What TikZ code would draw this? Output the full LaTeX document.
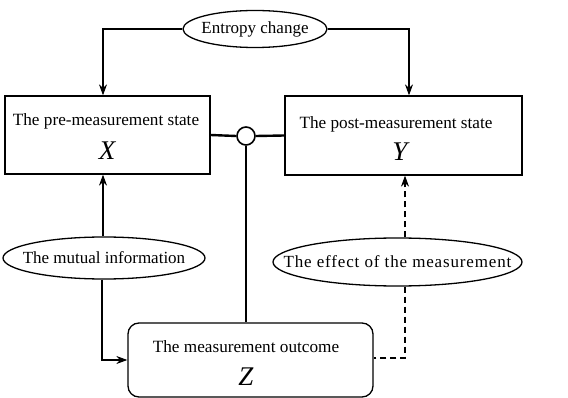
\documentclass[tikz,border=0pt]{standalone}
\usepackage{fontspec}
\setmainfont{Liberation Serif}
\usetikzlibrary{shapes.geometric,arrows.meta,calc}
\begin{document}
\begin{tikzpicture}[x=1pt,y=-1pt,
  box/.style={draw,line width=1.3pt,inner sep=0pt},
  oval/.style={draw,ellipse,line width=1.3pt,inner xsep=-60pt,inner ysep=-12pt,font=\fontsize{17}{19}\selectfont},
  lab/.style={font=\fontsize{17.2}{19}\selectfont,inner sep=0pt},
  big/.style={font=\fontsize{27}{30}\selectfont\itshape,inner sep=0pt},
  conn/.style={line width=1.1pt},
  thick conn/.style={line width=2.4pt},
  arr/.style={-{Stealth[length=11pt,width=8pt]}}]
\useasboundingbox (0,0) rectangle (568,398);
% boxes
\node[box,minimum width=205pt,minimum height=78pt] (Xbox) at (107.5,135) {};
\node[box,minimum width=237pt,minimum height=79pt] (Ybox) at (403.5,135.5) {};
\node[box,rounded corners=11pt,minimum width=245pt,minimum height=74pt] (Zbox) at (250.5,360) {};
\node[lab] (Xt) at (106,121) {The pre-measurement state};
\node[big] (Xv) at (107,151) {X};
\node[lab] (Yt) at (396,124) {The post-measurement state};
\node[big] (Yv) at (400,152) {Y};
\node[lab] (Zt) at (246,347) {The measurement outcome};
\node[big] (Zv) at (246,377) {Z};
% ellipses
\node[oval,minimum width=144pt,minimum height=37pt] (ent) at (255,29) {Entropy change};
\node[oval,minimum width=202pt,minimum height=42pt] (mut) at (104,258) {The mutual information};
\node[oval,minimum width=249pt,minimum height=48pt] (eff) at (397.5,262) {\addfontfeature{LetterSpace=5}The effect of the measurement};
% junction circle
\node[draw,circle,line width=1.6pt,minimum size=18pt,inner sep=0pt,fill=white] (circ) at (246,136) {};
% connectors
\draw[conn,arr] (ent.west) -| ([xshift=-4.5pt]Xbox.north);
\draw[conn,arr] (ent.east) -| ([xshift=5.5pt]Ybox.north);
\draw[thick conn] (Xbox.east) -- (circ.west);
\draw[thick conn] (circ.east) -- (Ybox.west);
\draw[thick conn] (circ.south) -- (circ.south |- Zbox.north);
\draw[conn,arr] ([xshift=-1pt]mut.north) -- ([xshift=-1pt]mut.north |- Xbox.south);
\draw[conn,arr] ([xshift=-2pt]mut.south) |- (Zbox.west);
\draw[conn,dashed,dash pattern=on 6pt off 4pt,arr] ([xshift=7.5pt]eff.north) -- ([xshift=7.5pt]eff.north |- Ybox.south);
\draw[conn,dashed,dash pattern=on 6pt off 4pt] ([xshift=7.5pt]eff.south) |- ([yshift=2pt]Zbox.east);
\end{tikzpicture}
\end{document}
